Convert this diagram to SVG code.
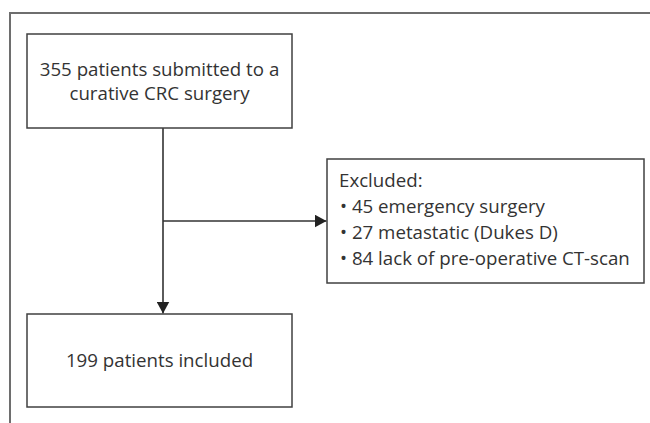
<svg xmlns="http://www.w3.org/2000/svg" width="650" height="423" viewBox="0 0 650 423">
  <style>
    .box { fill: #ffffff; stroke: #404040; stroke-width: 1.5; }
    .frame { fill: none; stroke: #6e6e6e; stroke-width: 2; }
    .conn { fill: none; stroke: #333333; stroke-width: 1.6; }
    text { font-family: "Open Sans", "Noto Sans", "DejaVu Sans", sans-serif; font-size: 18.7px; fill: #333333; }
    .c { text-anchor: middle; }
  </style>
  <defs>
    <marker id="arrow" markerUnits="userSpaceOnUse" markerWidth="13" markerHeight="13" refX="12" refY="6.5" orient="auto">
      <path d="M0,0 L12,6.5 L0,13 Z" fill="#222222"/>
    </marker>
  </defs>
  <rect width="650" height="423" fill="#ffffff"/>
  <path class="frame" d="M10,423 V13 H650"/>

  <g id="connectors">
    <path class="conn" d="M163,128 V313.5" marker-end="url(#arrow)"/>
    <path class="conn" d="M163,221 H326.5" marker-end="url(#arrow)"/>
  </g>

  <g id="node-start">
    <rect class="box" x="27" y="34" width="265" height="94"/>
    <text class="c" x="159.5" y="76">355 patients submitted to a</text>
    <text class="c" x="159.5" y="99.5">curative CRC surgery</text>
  </g>

  <g id="node-excluded">
    <rect class="box" x="327" y="159" width="317" height="124"/>
    <text x="339" y="187">Excluded:</text>
    <text x="340" y="213">• 45 emergency surgery</text>
    <text x="340" y="239">• 27 metastatic (Dukes D)</text>
    <text x="340" y="265">• 84 lack of pre-operative CT-scan</text>
  </g>

  <g id="node-included">
    <rect class="box" x="27" y="314" width="265" height="93"/>
    <text class="c" x="159.5" y="367">199 patients included</text>
  </g>
</svg>
